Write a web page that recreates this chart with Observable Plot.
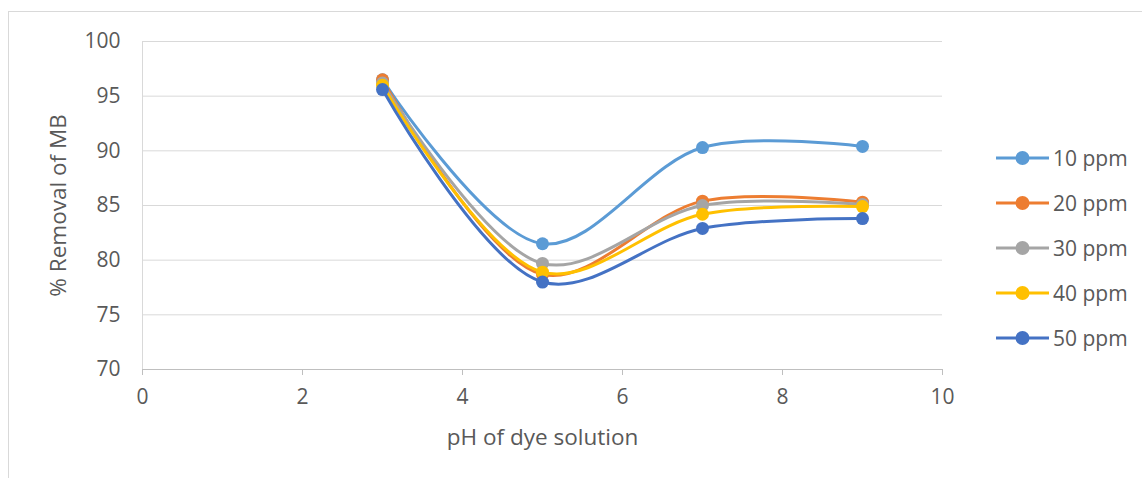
<!DOCTYPE html>
<html>
<head>
<meta charset="utf-8">
<script src="https://cdn.jsdelivr.net/npm/d3@7"></script>
<script src="https://cdn.jsdelivr.net/npm/@observablehq/plot@0.6"></script>
<style>
  html, body { margin: 0; padding: 0; background: #fff; overflow: hidden; }
  #wrap { position: relative; width: 1142px; height: 478px; }
  #frame { position: absolute; left: 8px; top: 11px; width: 1300px; height: 600px; border: 1px solid #d9d9d9; box-sizing: border-box; }
  #chart { position: absolute; left: 0; top: 0; }
  #legend { position: absolute; left: 996px; top: 0; font-family: "Open Sans", sans-serif; font-size: 21px; color: #595959; }
  .row { position: absolute; left: 0; height: 20px; display: flex; align-items: center; white-space: nowrap; }
  .row svg { display: block; margin-right: 4px; }
</style>
</head>
<body>
<div id="wrap">
  <div id="frame"></div>
  <div id="chart"></div>
  <div id="legend"></div>
</div>
<script>
// ---- data ----
const pH = [3, 5, 7, 9];
const series = ["10 ppm", "20 ppm", "30 ppm", "40 ppm", "50 ppm"];
const colors = ["#5B9BD5", "#ED7D31", "#A5A5A5", "#FFC000", "#4472C4"];
const ppm10 = [96.5, 81.5, 90.3, 90.4];
const ppm20 = [96.5, 78.7, 85.4, 85.3];
const ppm30 = [96.2, 79.7, 85.0, 85.1];
const ppm40 = [96.0, 78.9, 84.2, 84.9];
const ppm50 = [95.6, 78.0, 82.9, 83.8];
const xTicks = [0, 2, 4, 6, 8, 10];
const yTicks = [70, 75, 80, 85, 90, 95, 100];
const xTitle = "pH of dye solution";
const yTitle = "% Removal of MB";

const values = [ppm10, ppm20, ppm30, ppm40, ppm50];
const rows = [];
series.forEach((s, i) => pH.forEach((p, j) => rows.push({series: s, pH: p, value: values[i][j]})));

const font = '"Open Sans", sans-serif';
const marks = [
  Plot.ruleY(yTicks.filter(d => d > 70), {stroke: "#d9d9d9", strokeWidth: 1}),
  Plot.ruleX([0], {stroke: "#d9d9d9", strokeWidth: 1, y1: 70, y2: 100}),
  Plot.ruleY([70], {stroke: "#bfbfbf", strokeWidth: 1}),
  Plot.axisX({ticks: xTicks, tickSize: 6, tickPadding: 14, stroke: "#bfbfbf", fill: "#595959", label: null, fontSize: 21}),
  Plot.axisY({ticks: yTicks, tickSize: 0, tickPadding: 22, fill: "#595959", label: null, fontSize: 21}),
  Plot.text([xTitle], {frameAnchor: "bottom", dy: 68, lineAnchor: "middle", textAnchor: "middle", fill: "#595959", fontSize: 22.5}),
  Plot.text([yTitle], {frameAnchor: "left", dx: -84, rotate: -90, lineAnchor: "middle", textAnchor: "middle", fill: "#595959", fontSize: 22.5})
];
series.forEach((s, i) => {
  const d = rows.filter(r => r.series === s);
  marks.push(Plot.line(d, {x: "pH", y: "value", stroke: colors[i], strokeWidth: 3, curve: "catmull-rom"}));
  marks.push(Plot.dot(d, {x: "pH", y: "value", r: 6.5, fill: colors[i], strokeWidth: 0}));
});

const chart = Plot.plot({
  width: 1142, height: 478,
  marginLeft: 142, marginRight: 200, marginTop: 41, marginBottom: 109,
  x: {domain: [0, 10]},
  y: {domain: [70, 100]},
  style: {fontFamily: font, fontSize: "21px", color: "#595959", background: "transparent", overflow: "visible"},
  marks
});
document.getElementById("chart").appendChild(chart);

// legend
const legend = document.getElementById("legend");
const rowY = [158, 203, 248, 293, 338];
series.forEach((s, i) => {
  const div = document.createElement("div");
  div.className = "row";
  div.style.top = (rowY[i] - 10) + "px";
  div.innerHTML = `<svg width="53" height="20"><line x1="0" x2="53" y1="10" y2="10" stroke="${colors[i]}" stroke-width="3"/><circle cx="26.5" cy="10" r="7" fill="${colors[i]}"/></svg><span>${s}</span>`;
  legend.appendChild(div);
});
</script>
</body>
</html>
